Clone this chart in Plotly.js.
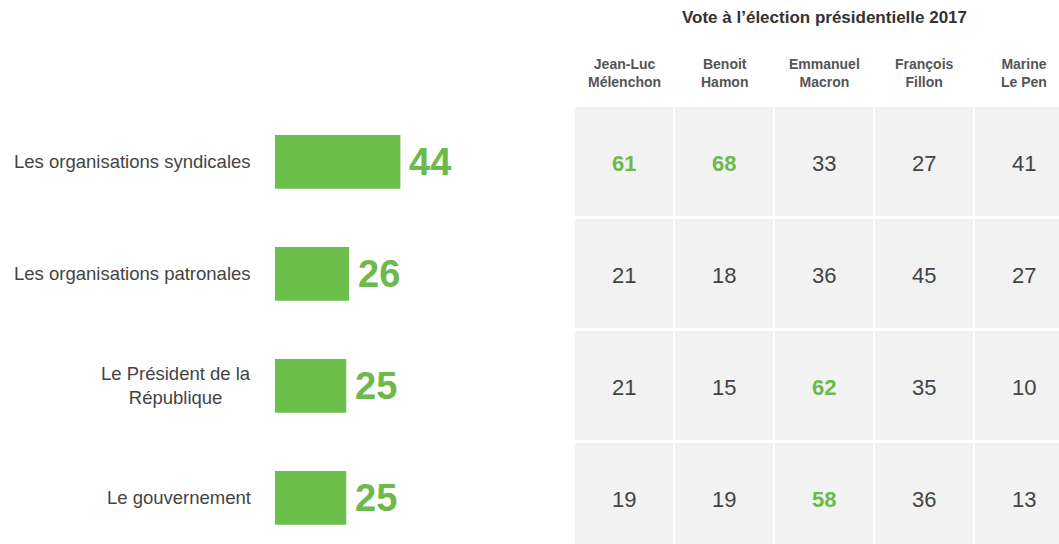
<!DOCTYPE html>
<html>
<head>
<meta charset="utf-8">
<script src="https://cdn.plot.ly/plotly-3.0.1.min.js"></script>
<style>html,body{margin:0;padding:0;background:#fff;}#chart{width:1059px;height:544px;}</style>
</head>
<body>
<div id="chart"></div>
<script>
const categories = ["Les organisations syndicales", "Les organisations patronales", "Le Président de la<br>République", "Le gouvernement"];
const totals = [44, 26, 25, 25];
const candidates = ["Jean-Luc<br>Mélenchon", "Benoit<br>Hamon", "Emmanuel<br>Macron", "François<br>Fillon", "Marine<br>Le Pen"];
const votes = [
  [61, 68, 33, 27, 41],
  [21, 18, 36, 45, 27],
  [21, 15, 62, 35, 10],
  [19, 19, 58, 36, 13]
];
const highlight = [
  [true, true, false, false, false],
  [false, false, false, false, false],
  [false, false, true, false, false],
  [false, false, true, false, false]
];
const tableTitle = "Vote à l’élection présidentielle 2017";

const GREEN_BAR = "#6bbf4a";
const GREEN_TXT = "#6cb94c";
const FONT = "Liberation Sans, Arial, sans-serif";

const traces = [];
traces.push({
  type: "bar", orientation: "h",
  x: totals, y: categories,
  xaxis: "x", yaxis: "y",
  marker: {color: GREEN_BAR},
  hoverinfo: "skip"
});
traces.push({
  type: "heatmap",
  x: candidates, y: categories, z: votes,
  xaxis: "x2", yaxis: "y",
  colorscale: [[0, "#f2f2f2"], [1, "#f2f2f2"]],
  showscale: false, xgap: 2, ygap: 3, hoverinfo: "skip"
});

const annotations = [];
categories.forEach((c, i) => {
  annotations.push({
    xref: "paper", yref: "y", x: 253 / 1059, y: c, text: c,
    xanchor: "right", yanchor: "middle", align: "center", showarrow: false,
    font: {family: FONT, size: 18.5, color: "#444444"}
  });
  annotations.push({
    xref: "x", yref: "y", x: totals[i], y: c, text: String(totals[i]),
    xanchor: "left", yanchor: "middle", xshift: 7, showarrow: false,
    font: {family: FONT, size: 38, color: GREEN_TXT, weight: "bold"}
  });
  candidates.forEach((k, j) => {
    const hl = highlight[i][j];
    annotations.push({
      xref: "x2", yref: "y", x: k, y: c, text: String(votes[i][j]),
      xanchor: "center", yanchor: "middle", yshift: -2, showarrow: false,
      font: {family: FONT, size: 22, color: hl ? GREEN_TXT : "#444444", weight: hl ? "bold" : "normal"}
    });
  });
});
candidates.forEach((k) => {
  annotations.push({
    xref: "x2", yref: "paper", x: k, y: 1 - 73 / 544, text: k,
    xanchor: "center", yanchor: "middle", align: "center", showarrow: false,
    font: {family: FONT, size: 14, color: "#555555", weight: "bold"}
  });
});
annotations.push({
  xref: "x2", yref: "paper", x: candidates[2], y: 1 - 18 / 544, text: tableTitle,
  xanchor: "center", yanchor: "middle", showarrow: false,
  font: {family: FONT, size: 17, color: "#333333", weight: "bold"}
});

const layout = {
  width: 1059, height: 544,
  margin: {l: 0, r: 0, t: 0, b: 0},
  paper_bgcolor: "#ffffff", plot_bgcolor: "rgba(0,0,0,0)",
  showlegend: false,
  bargap: 0.52,
  xaxis: {domain: [275 / 1059, 560 / 1059], range: [0, 100], visible: false, fixedrange: true},
  xaxis2: {domain: [570 / 1059, 1], range: [-0.54, 4.35], type: "category", visible: false, fixedrange: true, anchor: "y"},
  yaxis: {type: "category", categoryarray: categories, categoryorder: "array", range: [3.411, -1.446], visible: false, fixedrange: true},
  annotations: annotations,
  font: {family: FONT}
};

Plotly.newPlot("chart", traces, layout, {staticPlot: true, displayModeBar: false});
</script>
</body>
</html>
